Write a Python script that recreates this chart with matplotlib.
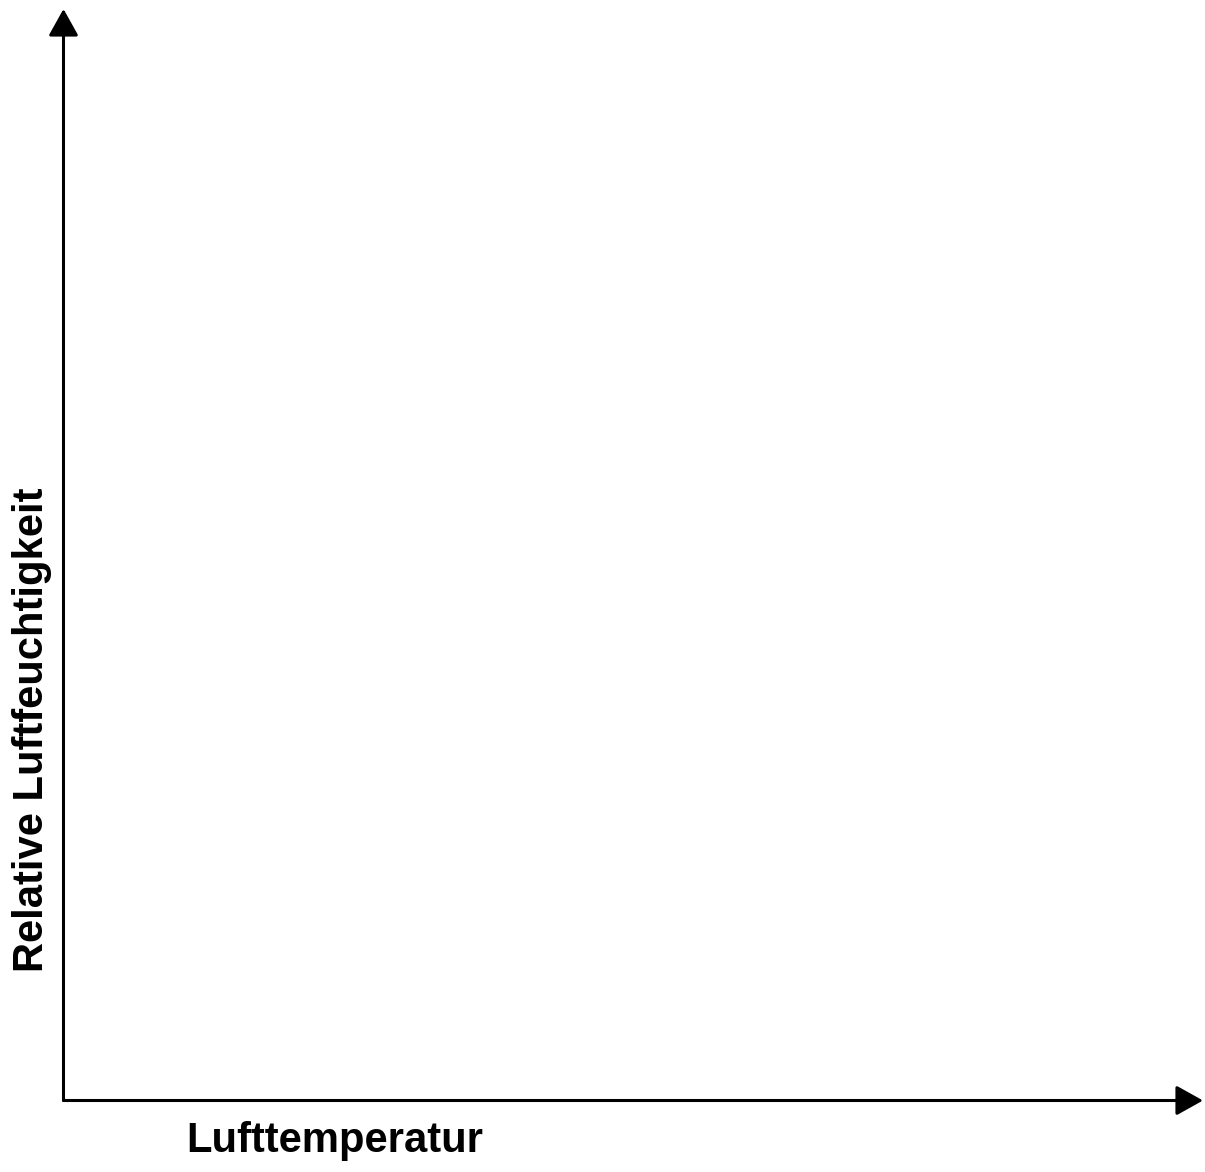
import matplotlib
matplotlib.use("Agg")
import matplotlib.pyplot as plt

# labels of the empty axes sketch
x_label = "Lufttemperatur"
y_label = "Relative Luftfeuchtigkeit"

W, H, DPI = 1205, 1172, 100

plt.rcParams['font.family'] = ['Liberation Sans', 'DejaVu Sans']

fig = plt.figure(figsize=(W / DPI, H / DPI), dpi=DPI)

# axes box: origin at the corner, right/top at the arrow tips
left, bottom = 63.5, 1100.5
right, top = 1203, 9
ax = fig.add_axes([left / W, (H - bottom) / H, (right - left) / W, (bottom - top) / H])
ax.set_xlim(0, 1)
ax.set_ylim(0, 1)
ax.axis('off')

arrow = dict(arrowstyle='-|>,head_length=16.5,head_width=9.2', mutation_scale=1,
             lw=2.2, color='black', shrinkA=0, shrinkB=0)
ax.annotate('', xy=(1, 0), xytext=(0, 0), xycoords='axes fraction', arrowprops=arrow)
ax.annotate('', xy=(0, 1), xytext=(0, 0), xycoords='axes fraction', arrowprops=arrow)

fs = 30.1
fig.text(335 / W, 1 - 1152 / H, x_label, ha='center', va='baseline',
         fontsize=fs, fontweight='bold')
fig.text(43 / W, 1 - 730 / H, y_label, ha='center', va='baseline', rotation=90,
         rotation_mode='anchor', fontsize=fs, fontweight='bold')

fig.savefig("out.png", dpi=DPI)
